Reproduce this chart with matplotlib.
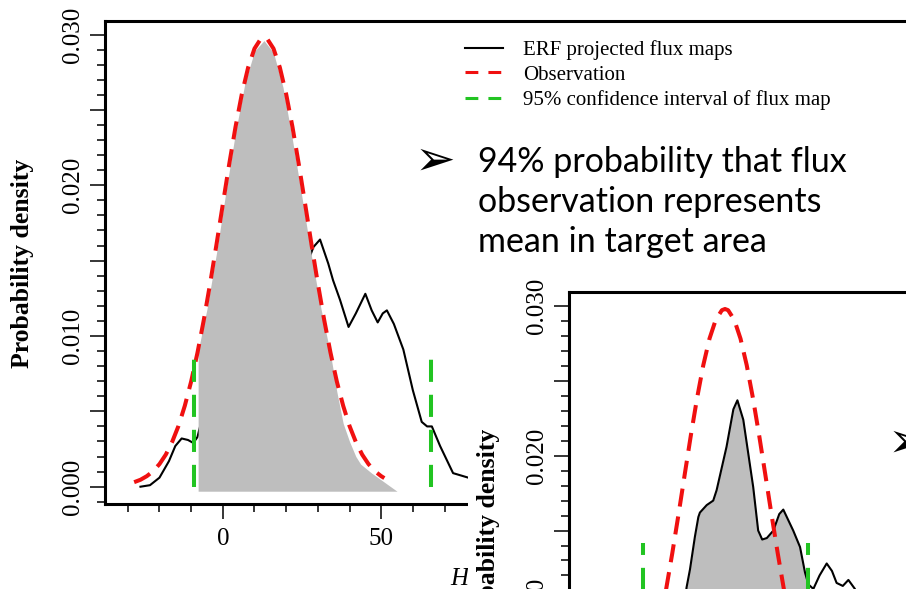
import matplotlib
matplotlib.use("Agg")
import matplotlib.pyplot as plt
from matplotlib.lines import Line2D
from matplotlib.patches import Rectangle
from matplotlib.ticker import MultipleLocator
import numpy as np

# observation density (red dashed), same in both panels
obs_x = [-28, -26, -24, -22, -20, -18, -16, -14, -12, -10, -8, -6, -4, -2, 0, 2, 4, 6, 8, 10,
         12, 13, 14, 16, 18, 20, 22, 24, 26, 28, 30, 32, 34, 36, 38, 40, 42, 44, 46, 48, 50, 51]
obs_y = [0.00030, 0.00046, 0.00070, 0.00103, 0.00150, 0.00213, 0.00297, 0.00403, 0.00537, 0.00698,
         0.00889, 0.01107, 0.01349, 0.01607, 0.01874, 0.02138, 0.02386, 0.02605, 0.02782, 0.02907,
         0.02972, 0.02980, 0.02972, 0.02907, 0.02782, 0.02605, 0.02386, 0.02138, 0.01874, 0.01607,
         0.01349, 0.01107, 0.00889, 0.00698, 0.00537, 0.00403, 0.00297, 0.00213, 0.00150, 0.00103,
         0.00070, 0.00057]

# panel 1: ERF projected flux maps
erf1_x = [-26, -23, -20, -17, -15, -13, -11, -9.3, -8, -6, -3, 0, 5, 10, 15, 20, 25, 27, 28.6,
          30.7, 33.3, 34.8, 37, 39.7, 42, 45, 47, 48.9, 50.5, 51.8, 54, 57, 60, 62.8, 64.5, 66,
          68.6, 72.7, 77.5, 82]
erf1_y = [0.0000, 0.0001, 0.0006, 0.0017, 0.0027, 0.0032, 0.0031, 0.0029, 0.0033, 0.0050, 0.0075,
          0.0095, 0.0120, 0.0135, 0.0142, 0.0145, 0.0148, 0.0150, 0.0159, 0.0164, 0.0148, 0.0137,
          0.0124, 0.0106, 0.0115, 0.0128, 0.0117, 0.0109, 0.0115, 0.0117, 0.0108, 0.0091, 0.0064,
          0.0043, 0.0040, 0.0040, 0.0027, 0.0009, 0.0006, 0.0004]
# shaded 94% area in panel 1
shade1_x = [-7.8, -5, -2, 1, 4, 7, 10, 13, 16, 19, 22, 25, 28, 31, 34, 36, 38, 40, 42, 43.5, 47, 51, 55]
shade1_y = [0.0090, 0.0118, 0.0155, 0.0196, 0.0235, 0.0268, 0.0289, 0.0296, 0.0288, 0.0265, 0.0230,
            0.0192, 0.0153, 0.0118, 0.0088, 0.0063, 0.0042, 0.0030, 0.0020, 0.0015, 0.0009, 0.0003,
            -0.0003]
ci1 = [-9.0, 65.8]
ci1_top = 0.0090

# panel 2
erf2_x = [-1.0, 0.6, 1.7, 3.3, 4.4, 4.9, 7.1, 9.2, 10.3, 13.5, 15.7, 17.0, 18.9, 22.1, 23.7, 25.0,
          26.5, 28.6, 30.5, 31.8, 35.0, 37.2, 38.8, 39.9, 41.5, 43.5, 45.8, 47.5, 49.0, 51.0, 52.8,
          54.9, 56.5]
erf2_y = [0.0085, 0.0112, 0.0124, 0.0146, 0.0159, 0.0162, 0.0167, 0.0170, 0.0177, 0.0206, 0.0231,
          0.0237, 0.0224, 0.0179, 0.0150, 0.0144, 0.0145, 0.0150, 0.0161, 0.0164, 0.0150, 0.0139,
          0.0122, 0.0114, 0.0111, 0.0120, 0.0128, 0.0123, 0.0115, 0.0113, 0.0117, 0.0111, 0.0098]
ci2 = [-13.4, 39.9]
ci2_top = 0.01415

legend_labels = ["ERF projected flux maps", "Observation", "95% confidence interval of flux map"]
bullet_text = "94% probability that flux\nobservation represents\nmean in target area"

RED = "#f01010"
GREEN = "#22c422"
GRAY = "#bebebe"

plt.rcParams["font.family"] = ["Liberation Serif", "DejaVu Serif"]

W, H = 906, 589
fig = plt.figure(figsize=(W / 100, H / 100), dpi=100)


def box(l, t, r, b):
    return [l / W, 1 - b / H, (r - l) / W, (b - t) / H]


def style(ax, xlim, ylim):
    for s in ax.spines.values():
        s.set_linewidth(2.2)
    yt = np.arange(-0.005, 0.0351, 0.005)
    ax.set_yticks(yt, labels=[f"{v:.3f}" if round(v / 0.005) % 2 == 0 else "" for v in yt],
                  rotation=90, va="center", fontsize=18)
    ax.yaxis.set_minor_locator(MultipleLocator(0.001))
    ax.xaxis.set_major_locator(MultipleLocator(50))
    ax.xaxis.set_minor_locator(MultipleLocator(10))
    ax.tick_params(which="major", length=11, width=1.1, direction="out", labelsize=18)
    ax.tick_params(which="minor", length=6, width=1.1, direction="out")
    ax.tick_params(axis="y", pad=4)
    ax.tick_params(axis="x", pad=6)
    ax.set_xlim(*xlim)
    ax.set_ylim(*ylim)


def draw_panel(ax, ex, ey, ci, ci_top):
    ax.plot(ex, ey, color="black", lw=1.5, zorder=2)
    ax.plot(obs_x, obs_y, color=RED, lw=2.9, ls=(0, (4.5, 2.5)), zorder=4)
    for c in ci:
        ax.plot([c, c], [0, ci_top], color=GREEN, lw=2.9, ls=(0, (5.5, 3.2)), zorder=5)


# ---- panel 1
ax1 = fig.add_axes(box(105, 20.7, 912, 504))
style(ax1, (-37.2, 217.6), (-0.001148, 0.03092))
draw_panel(ax1, erf1_x, erf1_y, ci1, ci1_top)
ax1.fill_between(shade1_x, -0.0003, shade1_y, color=GRAY, lw=0, zorder=3)
ax1.set_ylabel("Probability density", fontsize=18.5, fontweight="bold")
ax1.yaxis.set_label_coords(34 / W, 1 - 263.5 / H, transform=fig.transFigure)
ax1.text(450 / W, 1 - 579 / H, "H", transform=fig.transFigure, fontsize=18,
         style="italic", ha="left", va="center")

handles = [Line2D([], [], color="black", lw=1.5),
           Line2D([], [], color=RED, lw=2.2, ls=(0, (4.2, 3.3))),
           Line2D([], [], color=GREEN, lw=2.2, ls=(0, (4.2, 3.3)))]
ax1.legend(handles, legend_labels, loc="upper left", bbox_to_anchor=(465 / W, 1 - 40 / H),
           bbox_transform=fig.transFigure, frameon=False, fontsize=15, handlelength=1.82,
           handletextpad=0.95, labelspacing=0.25, borderpad=0, borderaxespad=0)

# ---- pasted second panel
fig.patches.append(Rectangle((468 / W, 0), 1 - 468 / W, 1 - 275 / H, transform=fig.transFigure,
                             facecolor="white", edgecolor="none", zorder=1))
ax2 = fig.add_axes(box(569, 291.7, 960, 772), zorder=2)
style(ax2, (-37.32, 88.8), (-0.00113, 0.030955))
draw_panel(ax2, erf2_x, erf2_y, ci2, ci2_top)
sel = [i for i, v in enumerate(erf2_x) if ci2[0] <= v <= ci2[1]]
ax2.fill_between([erf2_x[i] for i in sel], 0, [erf2_y[i] for i in sel], color=GRAY, lw=0, zorder=1)
ax2.set_ylabel("Probability density", fontsize=18.5, fontweight="bold")
ax2.yaxis.set_label_coords(500 / W, 1 - 533.5 / H, transform=fig.transFigure)

# ---- slide text
fig.text(415 / W, 1 - 161 / H, "\u27a2", family="DejaVu Sans", fontsize=35, va="center", zorder=6)
fig.text(888 / W, 1 - 442.5 / H, "\u27a2", family="DejaVu Sans", fontsize=35, va="center", zorder=6)
fig.text(478 / W, 1 - 251.7 / H, bullet_text, family=["Lato", "DejaVu Sans"], fontsize=24.5,
         va="baseline", ha="left", linespacing=1.31, zorder=6)

fig.savefig("out.png", dpi=100)
